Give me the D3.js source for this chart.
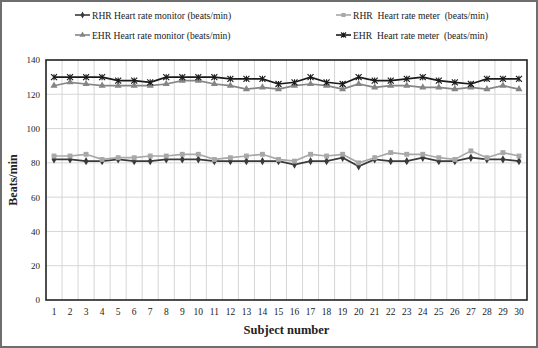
<!DOCTYPE html>
<html>
<head>
<meta charset="utf-8">
<script src="https://cdn.jsdelivr.net/npm/d3@7"></script>
<style>
  body { margin: 0; background: #fff; }
  text { font-family: "Liberation Serif", "Times New Roman", serif; }
</style>
</head>
<body>
<script>

// subject numbers
var subjects = d3.range(1, 31);

// beats/min
var rhrMonitor = [82, 82, 81, 81, 82, 81, 81, 82, 82, 82, 81, 81, 81, 81, 81,
                  79, 81, 81, 83, 78, 82, 81, 81, 83, 81, 81, 83, 82, 82, 81];
var rhrMeter   = [84, 84, 85, 82, 83, 83, 84, 84, 85, 85, 82, 83, 84, 85, 82,
                  81, 85, 84, 85, 80, 83, 86, 85, 85, 83, 82, 87, 83, 86, 84];
var ehrMonitor = [125, 127, 126, 125, 125, 125, 125, 126, 128, 128, 126, 125, 123, 124, 123,
                  125, 126, 125, 123, 126, 124, 125, 125, 124, 124, 123, 124, 123, 125, 123];
var ehrMeter   = [130, 130, 130, 130, 128, 128, 127, 130, 130, 130, 130, 129, 129, 129, 126,
                  127, 130, 127, 126, 130, 128, 128, 129, 130, 128, 127, 126, 129, 129, 129];

var yTicks = [0, 20, 40, 60, 80, 100, 120, 140];

var series = [
    { name: "RHR Heart rate monitor (beats/min)", values: rhrMonitor, color: "#3a3a3a", marker: "diamond" },
    { name: "RHR  Heart rate meter  (beats/min)", values: rhrMeter, color: "#a8a8a8", marker: "square" },
    { name: "EHR Heart rate monitor (beats/min)", values: ehrMonitor, color: "#858585", marker: "triangle" },
    { name: "EHR  Heart rate meter  (beats/min)", values: ehrMeter, color: "#1a1a1a", marker: "star" }
];

var W = 538, H = 348;
var margin = { top: 60, right: 11, bottom: 48, left: 46 };
var width = W - margin.left - margin.right;
var height = H - margin.top - margin.bottom;

var svg = d3.select("body").append("svg")
    .attr("width", W)
    .attr("height", H);

// outer frame
svg.append("rect")
    .attr("x", 1).attr("y", 1)
    .attr("width", W - 2).attr("height", H - 2)
    .attr("fill", "#fff")
    .attr("stroke", "#6e6e6e")
    .attr("stroke-width", 2);

var g = svg.append("g")
    .attr("transform", "translate(" + margin.left + "," + margin.top + ")");

var x = d3.scaleBand()
    .domain(subjects)
    .range([0, width]);

var y = d3.scaleLinear()
    .domain([0, 140])
    .range([height, 0]);

// gridlines
g.selectAll(".hgrid")
    .data(yTicks.slice(1, -1))
    .enter().append("line")
    .attr("x1", 0).attr("x2", width)
    .attr("y1", function (d) { return y(d); })
    .attr("y2", function (d) { return y(d); })
    .attr("stroke", "#d6d6d6")
    .attr("stroke-width", 1);

g.selectAll(".vgrid")
    .data(subjects.slice(1))
    .enter().append("line")
    .attr("x1", function (d) { return x(d); })
    .attr("x2", function (d) { return x(d); })
    .attr("y1", 0).attr("y2", height)
    .attr("stroke", "#d6d6d6")
    .attr("stroke-width", 1);

// plot frame
g.append("rect")
    .attr("width", width).attr("height", height)
    .attr("fill", "none")
    .attr("stroke", "#222")
    .attr("stroke-width", 1.6);

// y axis
var yAxis = d3.axisLeft(y).tickValues(yTicks).tickSize(0).tickPadding(6);
g.append("g")
    .call(yAxis)
    .call(function (s) { s.select(".domain").remove(); })
    .selectAll("text")
    .style("font-size", "9px")
    .attr("fill", "#222");

// x axis
var xAxis = d3.axisBottom(x).tickSize(0).tickPadding(8);
g.append("g")
    .attr("transform", "translate(0," + height + ")")
    .call(xAxis)
    .call(function (s) { s.select(".domain").remove(); })
    .selectAll("text")
    .style("font-size", "9.5px")
    .attr("fill", "#222");

// axis titles
svg.append("text")
    .attr("transform", "translate(17," + (margin.top + height / 2) + ") rotate(-90)")
    .attr("text-anchor", "middle")
    .style("font-size", "12px")
    .style("font-weight", "bold")
    .attr("fill", "#222")
    .text("Beats/min");

svg.append("text")
    .attr("x", margin.left + width / 2)
    .attr("y", 334)
    .attr("text-anchor", "middle")
    .style("font-size", "12.5px")
    .style("font-weight", "bold")
    .attr("fill", "#222")
    .text("Subject number");

function drawMarker(sel, type, color, k) {
    k = k || 1;
    if (type === "diamond") {
        sel.append("path").attr("d", d3.symbol(d3.symbolDiamond, 20 * k)()).attr("fill", color);
    } else if (type === "square") {
        sel.append("path").attr("d", d3.symbol(d3.symbolSquare, 24 * k)()).attr("fill", color);
    } else if (type === "triangle") {
        sel.append("path").attr("d", d3.symbol(d3.symbolTriangle, 22 * k)()).attr("fill", color);
    } else {
        var r = 3 * Math.sqrt(k);
        sel.append("path")
            .attr("d", "M" + -r + "," + -r + "L" + r + "," + r + "M" + -r + "," + r + "L" + r + "," + -r +
                  "M0," + -r + "L0," + r)
            .attr("stroke", color).attr("stroke-width", 1.1).attr("fill", "none");
    }
}

var line = d3.line()
    .x(function (d, i) { return x(subjects[i]) + x.bandwidth() / 2; })
    .y(function (d) { return y(d); });

series.forEach(function (s) {
    g.append("path")
        .datum(s.values)
        .attr("fill", "none")
        .attr("stroke", s.color)
        .attr("stroke-width", 1.7)
        .attr("d", line);

    g.selectAll(null)
        .data(s.values)
        .enter().append("g")
        .attr("transform", function (d, i) {
            return "translate(" + (x(subjects[i]) + x.bandwidth() / 2) + "," + y(d) + ")";
        })
        .each(function () { drawMarker(d3.select(this), s.marker, s.color); });
});

// legend, two by two
var legendPos = [[75, 15], [336, 15], [75, 35], [336, 35]];
series.forEach(function (s, i) {
    var lg = svg.append("g")
        .attr("transform", "translate(" + legendPos[i][0] + "," + legendPos[i][1] + ")");
    lg.append("line")
        .attr("x1", 0).attr("x2", 15)
        .attr("stroke", s.color).attr("stroke-width", 1.6);
    drawMarker(lg.append("g").attr("transform", "translate(7.5,0)"), s.marker, s.color, 0.7);
    lg.append("text")
        .attr("x", 17).attr("y", 3.5)
        .style("font-size", "9.6px")
        .style("white-space", "pre")
        .attr("fill", "#222")
        .text(s.name);
});

</script>
</body>
</html>
